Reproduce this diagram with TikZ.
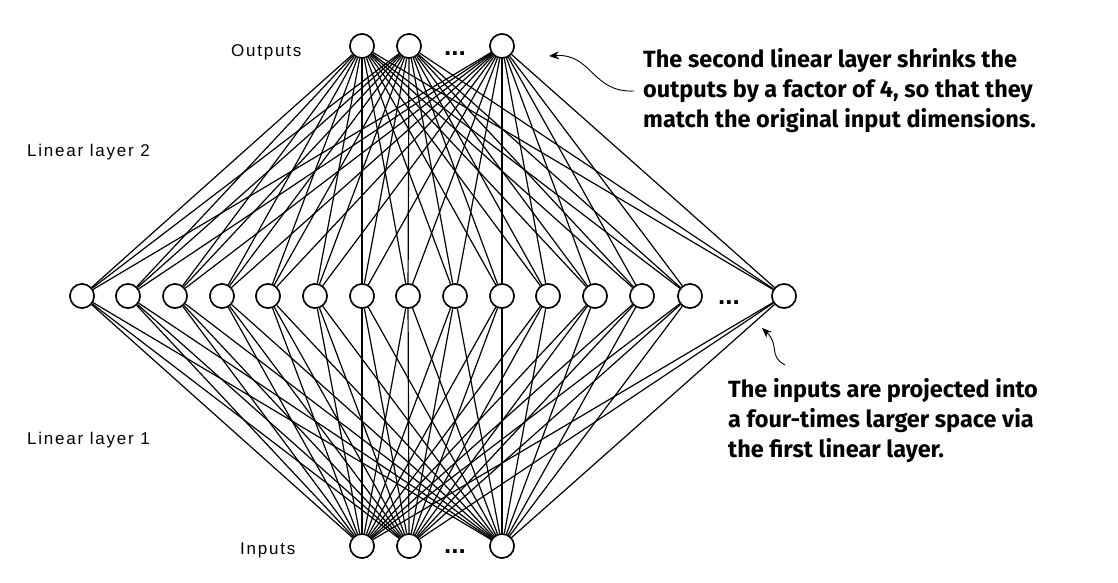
\documentclass[tikz,border=0pt]{standalone}
\usepackage{fontspec}
\usetikzlibrary{arrows.meta}
\setmainfont{Liberation Sans}
\newfontfamily\lblfont[LetterSpace=10.5]{Liberation Sans}
\newfontfamily\dotfont{Liberation Sans Bold}
\newfontfamily\notefont{Fira Sans Bold}
\begin{document}
\begin{tikzpicture}[x=1pt,y=-1pt,
  neuron/.style={circle,draw,line width=1.5pt,minimum size=24pt,inner sep=0pt,fill=white},
  conn/.style={line width=1.2pt},
  lbl/.style={font=\lblfont\fontsize{17}{20}\selectfont,anchor=base west,inner sep=0pt},
  note/.style={font=\notefont\fontsize{23.5}{29.7}\selectfont,align=left,anchor=north west,inner sep=0pt},
  dots/.style={font=\dotfont\fontsize{26}{28}\selectfont,inner sep=0pt,anchor=base},
  pointer/.style={line width=0.9pt,-{Stealth[length=10pt,width=8pt]}}]
\useasboundingbox (0,0) rectangle (1118,582);
% middle layer
\foreach \x [count=\i] in {82,128,175,222,268,315,362,408,455,502,548,595,642,690,784}
  \node[neuron] (m\i) at (\x,296) {};
% top and bottom
\foreach \x [count=\j] in {362,409,502} {
  \node[neuron] (t\j) at (\x,46) {};
  \node[neuron] (b\j) at (\x,546) {};
}
% connections
\foreach \i in {1,...,15}
  \foreach \j in {1,2,3} {
    \draw[conn] (m\i) -- (t\j);
    \draw[conn] (m\i) -- (b\j);
  }
% redraw nodes on top
\foreach \x [count=\i] in {82,128,175,222,268,315,362,408,455,502,548,595,642,690,784}
  \node[neuron] (n\i) at (\x,296) {};
\foreach \x [count=\j] in {362,409,502} {
  \node[neuron] (tt\j) at (\x,46) {};
  \node[neuron] (bb\j) at (\x,546) {};
}
\node[dots] (d1) at (455,55) {...};
\node[dots] (d2) at (455,553) {...};
\node[dots] (d3) at (729,304) {...};
% labels
\node[lbl] (lo) at (231,56) {Outputs};
\node[lbl] (li) at (240,554) {Inputs};
\node[lbl] (l2) at (27,156.5) {Linear layer 2};
\node[lbl] (l1) at (27,444.5) {Linear layer 1};
% notes
\node[note] (n1) at (643,48.5) {The second linear layer shrinks the\\outputs by a factor of 4, so that they\\match the original input dimensions.};
\node[note] (n2) at (728,378.5) {The inputs are projected into\\a four-times larger space via\\the first linear layer.};
\coordinate (a1s) at (634,91);
\coordinate (a1e) at (549,56);
\coordinate (a2s) at (785,365);
\coordinate (a2e) at (762,328);
\draw[pointer] (a1s) .. controls (592,93) and (592,53) .. (a1e);
\draw[pointer] (a2s) .. controls (768,356) and (780,345) .. (a2e);
\end{tikzpicture}
\end{document}
